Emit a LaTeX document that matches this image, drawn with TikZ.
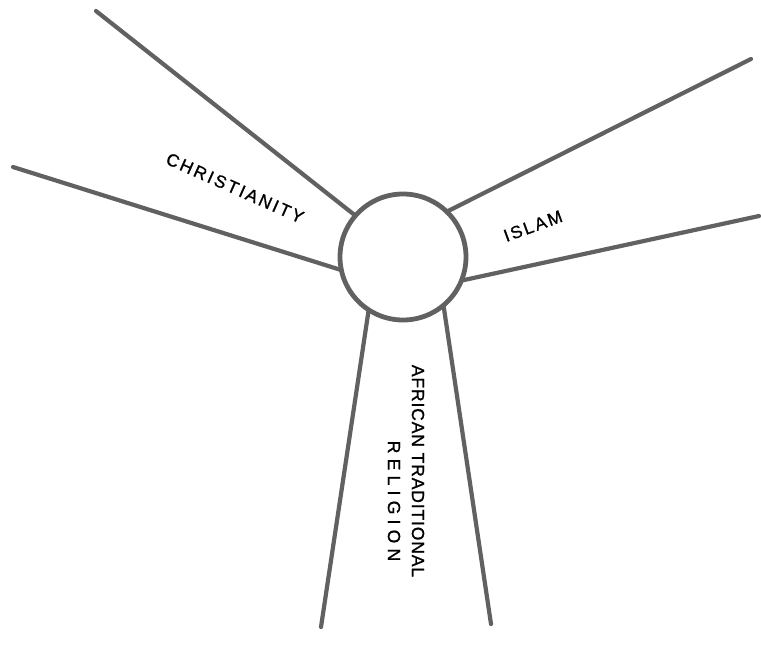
\documentclass[tikz,border=0pt]{standalone}
\usepackage{fontspec}
\setmainfont{Liberation Sans}
\newfontfamily\lblfont[FakeBold=1]{Liberation Sans}
\tikzset{
  spoke/.style={draw=black!62, line width=4.2pt, line cap=round},
  hub/.style={circle, draw=black!62, line width=4.8pt, minimum size=126pt, inner sep=0pt, outer sep=0pt},
  lbl/.style={inner sep=0pt, font=\lblfont\fontsize{17.5}{20}\selectfont, text=black}
}
\begin{document}
\begin{tikzpicture}[x=1pt, y=-1pt]
\useasboundingbox (0,0) rectangle (761,659);
\node[hub] (c) at (403,257) {};
\coordinate (ul) at (96,11);
\coordinate (l) at (13,167);
\coordinate (ur) at (751,59);
\coordinate (r) at (759,216);
\coordinate (bl) at (321,627);
\coordinate (br) at (491,624);
\draw[spoke] (ul) -- (c.139);
\draw[spoke] (l) -- (c.192);
\draw[spoke] (ur) -- (c.46);
\draw[spoke] (r) -- (c.-22);
\draw[spoke] (bl) -- (c.237);
\draw[spoke] (br) -- (c.-50);
\node[lbl, rotate=-24] (chr) at (235,188) {\addfontfeature{LetterSpace=14}CHRISTIANITY};
\node[lbl, rotate=20] (isl) at (533,226) {\addfontfeature{LetterSpace=12}ISLAM};
\node[lbl, rotate=-90] (atr) at (418,471) {\addfontfeature{LetterSpace=5}AFRICAN TRADITIONAL};
\node[lbl, rotate=-90] (rel) at (394,501) {\addfontfeature{LetterSpace=30}RELIGION};
\end{tikzpicture}
\end{document}
